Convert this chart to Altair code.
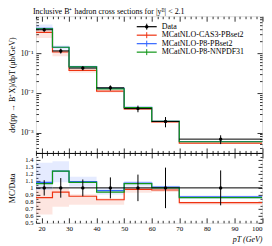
import altair as alt
import pandas as pd

# ---------------- data ----------------
edges = [18, 24, 30, 40, 50, 60, 70, 100]
centers = [21, 27, 35, 45, 55, 65, 85]

data_val = [0.39, 0.114, 0.042, 0.0134, 0.0040, 0.0019, 0.00068]
data_err = [0.043, 0.016, 0.005, 0.002, 0.00076, 0.00055, 0.00017]

cas3_val = [0.335, 0.107, 0.0370, 0.0111, 0.00392, 0.00184, 0.000537]
p8pb_val = [0.421, 0.141, 0.0458, 0.0129, 0.00428, 0.00192, 0.000592]
p8nn_val = [0.413, 0.141, 0.0454, 0.0126, 0.00424, 0.00190, 0.000585]

cas3_band_lo = [0.242, 0.0832, 0.0319, 0.0102, 0.00372, 0.00179, 0.000517]
cas3_band_hi = [0.382, 0.113, 0.0382, 0.0114, 0.00400, 0.00188, 0.000544]
p8pb_band_lo = [0.378, 0.123, 0.0428, 0.0121, 0.00408, 0.00186, 0.000571]
p8pb_band_hi = [0.530, 0.157, 0.0487, 0.0134, 0.00440, 0.00196, 0.000605]

ratio_data_err = [0.11, 0.14, 0.12, 0.15, 0.19, 0.29, 0.25]
cas3_ratio = [0.86, 0.94, 0.88, 0.83, 0.98, 0.97, 0.79]
p8pb_ratio = [1.08, 1.24, 1.09, 0.96, 1.07, 1.01, 0.87]
p8nn_ratio = [1.06, 1.24, 1.08, 0.94, 1.06, 1.00, 0.86]
cas3_ratio_lo = [0.62, 0.73, 0.76, 0.76, 0.93, 0.94, 0.76]
cas3_ratio_hi = [0.98, 0.99, 0.91, 0.85, 1.00, 0.99, 0.80]
p8pb_ratio_lo = [0.97, 1.08, 1.02, 0.90, 1.02, 0.98, 0.84]
p8pb_ratio_hi = [1.36, 1.38, 1.16, 1.00, 1.10, 1.03, 0.89]

legend_labels = ["Data", "MCatNLO-CAS3-PBset2", "MCatNLO-P8-PBset2", "MCatNLO-P8-NNPDF31"]
legend_colors = ["#000000", "#EE3311", "#3366FF", "#109618"]

x_label_values = [20, 30, 40, 50, 60, 70, 80, 90, 100]
main_label_values = [0.001, 0.01, 0.1]
ratio_label_values = [0.5, 0.6, 0.7, 0.8, 0.9, 1.0, 1.1, 1.2, 1.3, 1.4]

title_text = "Inclusive B\u207a hadron cross sections for |y\u1d2e| < 2.1"
main_ytitle = "d\u03c3(pp \u2192 B\u207aX)/dpT (\u03bcb/GeV)"
ratio_ytitle = "MC/Data"
x_title = "pT (GeV)"

FONT = "Liberation Serif"
RED, BLUE, GREEN = "#EE3311", "#3366FF", "#109618"

# ---------------- geometry ----------------
W = 226.5
H1 = 137
H2 = 70
HT = H1 + H2

xs = alt.Scale(domain=[18, 100], nice=False, zero=False)
ys_main = alt.Scale(type="log", domain=[3.05e-4, 0.855], range=[H1, 0], nice=False)
ys_ratio = alt.Scale(domain=[0.5, 1.5], range=[HT, H1], nice=False, zero=False)

x_tick_values = list(range(18, 101, 2))
main_tick_values = [k * 10.0 ** e for e in (-4, -3, -2, -1) for k in range(1, 10)
                    if 3.05e-4 <= k * 10.0 ** e <= 0.855]
ratio_tick_values = [round(0.5 + 0.05 * i, 2) for i in range(21)]


def steps(vals):
    return pd.DataFrame({"x": edges, "v": list(vals) + [vals[-1]]})


def band(lo, hi):
    return pd.DataFrame({"x": edges, "lo": list(lo) + [lo[-1]], "hi": list(hi) + [hi[-1]]})


def tick_axis(orient, offset, values, test, big, small, **kw):
    return alt.Axis(orient=orient, offset=offset, values=values, labels=False,
                    domain=kw.pop("domain", False), grid=False, title=None,
                    tickSize={"condition": {"test": test, "value": big}, "value": small},
                    tickColor="black", tickWidth=0.8, **kw)


XT = "datum.value % 10 === 0"
YT_LOG = "abs(log(datum.value)/LN10 - round(log(datum.value)/LN10)) < 0.001"
YT_RAT = "abs(datum.value*10 - round(datum.value*10)) < 0.001"


def carrier(df, ys, xaxis, yaxis):
    return alt.Chart(df).mark_point(opacity=0).encode(
        x=alt.X("x:Q", scale=xs, axis=xaxis),
        y=alt.Y("v:Q", scale=ys, axis=yaxis),
    )


def step_line(df, ys, color):
    return alt.Chart(df).mark_line(interpolate="step-after", color=color, strokeWidth=1.2, clip=True).encode(
        x=alt.X("x:Q", scale=xs, axis=None),
        y=alt.Y("v:Q", scale=ys, axis=None),
    )


def step_band(df, ys, color):
    return alt.Chart(df).mark_area(interpolate="step-after", color=color, opacity=0.13, clip=True).encode(
        x=alt.X("x:Q", scale=xs, axis=None),
        y=alt.Y("lo:Q", scale=ys, axis=None),
        y2="hi:Q",
    )


def data_layers(df, ys):
    yerr = alt.Chart(df).mark_rule(color="black", strokeWidth=1, clip=True).encode(
        x=alt.X("c:Q", scale=xs, axis=None),
        y=alt.Y("lo:Q", scale=ys, axis=None),
        y2="hi:Q",
    )
    xerr = alt.Chart(df).mark_rule(color="black", strokeWidth=1, clip=True).encode(
        x=alt.X("xl:Q", scale=xs, axis=None),
        x2="xh:Q",
        y=alt.Y("v:Q", scale=ys, axis=None),
    )
    pts = alt.Chart(df).mark_circle(color="black", size=12, opacity=1, clip=True).encode(
        x=alt.X("c:Q", scale=xs, axis=None),
        y=alt.Y("v:Q", scale=ys, axis=None),
    )
    return [xerr, yerr, pts]


# ---------------- main panel ----------------
main_pts = pd.DataFrame({
    "c": centers, "v": data_val,
    "lo": [v - e for v, e in zip(data_val, data_err)],
    "hi": [v + e for v, e in zip(data_val, data_err)],
    "xl": edges[:-1], "xh": edges[1:],
})

main_layers = [
    step_band(band(cas3_band_lo, cas3_band_hi), ys_main, RED),
    step_band(band(p8pb_band_lo, p8pb_band_hi), ys_main, BLUE),
    step_line(steps(cas3_val), ys_main, RED),
    step_line(steps(p8pb_val), ys_main, BLUE),
    step_line(steps(p8nn_val), ys_main, GREEN),
] + data_layers(main_pts, ys_main)

main_step = steps(data_val)
main_layers += [
    carrier(main_step, ys_main,
            tick_axis("bottom", -HT, x_tick_values, XT, 5, 2.5),
            alt.Axis(orient="left", values=main_label_values, ticks=False, domain=False, grid=False,
                     labelExpr="datum.value < 0.005 ? '10\u207b\u00b3' : (datum.value < 0.05 ? '10\u207b\u00b2' : '10\u207b\u00b9')",
                     labelFontSize=7.5, labelPadding=3, labelColor="black",
                     title=main_ytitle, titleFontSize=8, titleFontWeight="normal", titleColor="black",
                     titleX=-19)),
    carrier(main_step, ys_main,
            tick_axis("top", -H1, x_tick_values, XT, 5, 2.5),
            tick_axis("right", -W, main_tick_values, YT_LOG, 5, 2.5)),
    carrier(main_step, ys_main, None,
            tick_axis("left", -W, main_tick_values, YT_LOG, 5, 2.5)),
]

dummy = pd.DataFrame({"a": [0]})

# title as text
main_layers.append(alt.Chart(dummy).mark_text(align="left", baseline="alphabetic", fontSize=8,
                                              font=FONT, color="black").encode(
    x=alt.value(-3), y=alt.value(-2.5), text=alt.value(title_text)))

# legend
leg_y = [10.5, 19, 27.5, 36]
for lab, col, yy in zip(legend_labels, legend_colors, leg_y):
    main_layers.append(alt.Chart(dummy).mark_rule(color=col, strokeWidth=1.2).encode(
        x=alt.value(101), x2=alt.value(121), y=alt.value(yy)))
    main_layers.append(alt.Chart(dummy).mark_rule(color=col, strokeWidth=1).encode(
        x=alt.value(111), y=alt.value(yy - 3), y2=alt.value(yy + 3)))
    main_layers.append(alt.Chart(dummy).mark_text(align="left", baseline="middle", fontSize=8,
                                                  font=FONT, color="black").encode(
        x=alt.value(126), y=alt.value(yy), text=alt.value(lab)))
main_layers.append(alt.Chart(dummy).mark_circle(color="black", size=12, opacity=1).encode(
    x=alt.value(111), y=alt.value(leg_y[0])))

main = alt.layer(*main_layers).resolve_axis(x="independent", y="independent")

# ---------------- ratio panel ----------------
ratio_pts = pd.DataFrame({
    "c": centers, "v": [1.0] * 7,
    "lo": [1 - e for e in ratio_data_err],
    "hi": [1 + e for e in ratio_data_err],
    "xl": edges[:-1], "xh": edges[1:],
})

ratio_layers = [
    step_band(band(cas3_ratio_lo, cas3_ratio_hi), ys_ratio, RED),
    step_band(band(p8pb_ratio_lo, p8pb_ratio_hi), ys_ratio, BLUE),
    step_line(steps(cas3_ratio), ys_ratio, RED),
    step_line(steps(p8pb_ratio), ys_ratio, BLUE),
    step_line(steps(p8nn_ratio), ys_ratio, GREEN),
] + data_layers(ratio_pts, ys_ratio)

ratio_step = steps(p8nn_ratio)
ratio_layers += [
    carrier(ratio_step, ys_ratio,
            alt.Axis(orient="bottom", values=x_label_values, ticks=False, domain=False, grid=False,
                     format="d", labelFontSize=7, labelPadding=2, labelColor="black",
                     title=x_title, titleFontSize=8, titleFontWeight="normal", titleColor="black",
                     titleAnchor="end", titleAlign="right", titleX=W, titleY=19,
                     titleBaseline="alphabetic", titleFontStyle="italic"),
            alt.Axis(orient="left", values=ratio_label_values, ticks=False, domain=False, grid=False,
                     format=".1~f", labelFontSize=6.5, labelPadding=3, labelColor="black",
                     labelOverlap=False, labelBound=False,
                     title=ratio_ytitle, titleFontSize=8, titleFontWeight="normal", titleColor="black",
                     titleX=-19)),
    carrier(ratio_step, ys_ratio,
            tick_axis("top", -HT, x_tick_values, XT, 5, 2.5),
            tick_axis("right", -W, ratio_tick_values, YT_RAT, 4, 2)),
    carrier(ratio_step, ys_ratio,
            tick_axis("bottom", -H2, x_tick_values, XT, 5, 2.5,
                      domain=True, domainColor="black", domainWidth=1),
            tick_axis("left", -W, ratio_tick_values, YT_RAT, 4, 2)),
]

ratio = alt.layer(*ratio_layers).resolve_axis(x="independent", y="independent")

chart = alt.layer(main, ratio).resolve_scale(y="independent").resolve_axis(
    x="independent", y="independent"
).properties(
    width=W, height=HT,
    autosize=alt.AutoSizeParams(type="none"),
    padding={"left": 28, "top": 8, "right": 2, "bottom": 22},
).configure_view(stroke="black", strokeWidth=1).configure(font=FONT)

chart.save("out.html", embed_options={"renderer": "svg", "actions": False})
